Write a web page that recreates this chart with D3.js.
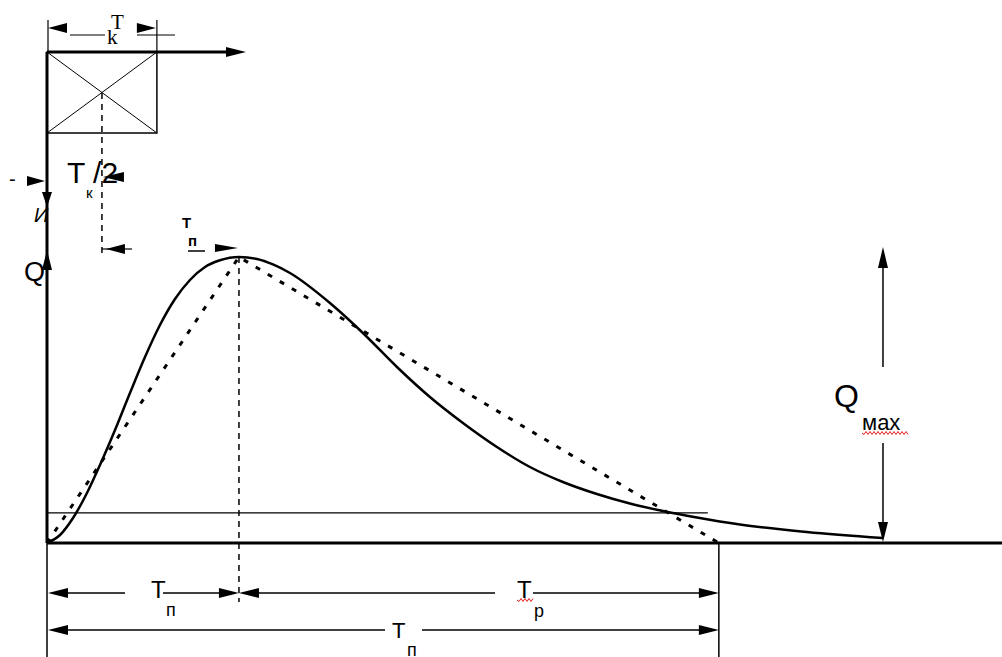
<!DOCTYPE html>
<html><head><meta charset="utf-8">
<script src="https://cdn.jsdelivr.net/npm/d3@7"></script>
<style>body{margin:0;background:#fff}svg{display:block}</style>
</head><body>
<script>
// ---- data ----
const hydroT = [0, 0.271, 0.542, 0.833, 1.104, 1.417, 1.729, 2.042, 2.354, 2.667, 2.979, 3.292, 3.604, 4.0, 4.375, 4.708, 5.063, 5.896, 6.583, 7.292, 7.979, 8.667, 9.375, 10.063, 10.75, 11.458, 12.146, 12.833, 13.542, 14.438, 15.833, 17.417];
const hydroQ = [0, 0.28, 0.874, 1.748, 2.727, 3.951, 5.245, 6.503, 7.622, 8.531, 9.196, 9.650, 9.885, 10.0, 9.93, 9.74, 9.441, 8.392, 7.343, 6.154, 5.105, 4.196, 3.357, 2.657, 2.133, 1.713, 1.381, 1.119, 0.892, 0.647, 0.385, 0.175];
const triT = [0, 4, 14];
const triQ = [0, 10, 0];
const baseFlowQ = [1.05];
const baseFlowEnd = [13.77];
const rainT = [0, 2.29];          // Tк
const rainI = [1];
const durations = [4, 10, 14];     // Tп, Tр, Tп(total)
const qmaxT = [17.42];

const W = 1002, H = 657;
const x = d3.scaleLinear().domain([0, 19.9]).range([47, 1002]);
const y = d3.scaleLinear().domain([0, 10]).range([543, 257]);
const yR = d3.scaleLinear().domain([0, 1]).range([52, 133]);

const svg = d3.select("body").append("svg").attr("width", W).attr("height", H);
const g = svg.append("g");
const SANS = "'Liberation Sans', Arial, sans-serif";
const SERIF = "'Liberation Serif', 'Times New Roman', serif";

function line(x1, y1, x2, y2, w = 1.5, dash = null) {
  const l = g.append("line").attr("x1", x1).attr("y1", y1).attr("x2", x2).attr("y2", y2)
    .attr("stroke", "#000").attr("stroke-width", w);
  if (dash) l.attr("stroke-dasharray", dash);
  return l;
}
function head(tx, ty, dir, len = 20, hw = 5) {
  let p;
  if (dir === "left") p = [[tx, ty], [tx + len, ty - hw], [tx + len, ty + hw]];
  if (dir === "right") p = [[tx, ty], [tx - len, ty - hw], [tx - len, ty + hw]];
  if (dir === "up") p = [[tx, ty], [tx - hw, ty + len], [tx + hw, ty + len]];
  if (dir === "down") p = [[tx, ty], [tx - hw, ty - len], [tx + hw, ty - len]];
  g.append("path").attr("d", "M" + p.map(d => d.join(",")).join("L") + "Z").attr("fill", "#000");
}
function text(t, tx, ty, size, font = SANS, extra = {}) {
  const el = g.append("text").attr("x", tx).attr("y", ty).attr("font-size", size)
    .attr("font-family", font).attr("fill", "#000").text(t);
  for (const k in extra) el.attr(k, extra[k]);
  return el;
}
function squiggle(x1, x2, yy) {
  let d = `M${x1},${yy}`;
  for (let xx = x1, i = 0; xx < x2; xx += 2, i++) d += `L${xx + 2},${yy + (i % 2 ? -1.5 : 1.5)}`;
  g.append("path").attr("d", d).attr("fill", "none").attr("stroke", "#e02020").attr("stroke-width", 1);
}

// ---- rainfall block (hyetograph) ----
const bx0 = x(rainT[0]), bx1 = x(rainT[1]), by0 = yR(0), by1 = yR(rainI[0]);
g.append("rect").attr("x", bx0).attr("y", by0).attr("width", bx1 - bx0).attr("height", by1 - by0)
  .attr("fill", "none").attr("stroke", "#000").attr("stroke-width", 1.5);
line(bx0, by0, bx1, by1, 1);
line(bx0, by1, bx1, by0, 1);
// top time axis
line(bx0, by0, 228, by0, 3);
head(246, by0, "right", 20, 5);
// Tk dimension
line(bx0 + 1, 20, bx0 + 1, by0, 1.2);
line(bx1, 20, bx1, by0, 1.2);
head(bx0 + 1, 28, "left", 19, 5);
head(bx1 - 1, 28, "right", 19, 5);
line(70, 35, 105, 35, 1.2);
line(137, 35, 175, 35, 1.2);
text("T", 111, 29, 21, SERIF);
text("k", 107, 44, 21, SERIF);
// Tk/2 dashed line
const bmid = x(rainT[1] / 2);
line(bmid, 93, bmid, 253, 1.5, "6,5");
text("T /2", 67, 183, 30);
text("к", 86, 198, 15);
head(bmid + 1, 177, "left", 21, 5);
head(bmid + 4, 249, "left", 19, 5);
line(bmid, 249, 132, 249, 1.2);

// ---- axes ----
line(x(0), by0, x(0), y(0), 3);
line(x(0), y(0), 1002, y(0), 3);
line(x(0), y(0), x(0), H, 1.5);
head(x(0), 207, "down", 15, 5);
head(x(0), 250, "up", 20, 5);
text("-", 9, 186, 20);
head(45, 181, "right", 18, 5);
text("И", 34, 222, 20, SANS, {"font-style": "italic"});
text("Q", 24, 281, 27);

// ---- base flow line ----
line(x(0), y(baseFlowQ[0]), x(baseFlowEnd[0]), y(baseFlowQ[0]), 1.3);

// ---- dashed triangle ----
const pts = triT.map((t, i) => [x(t), y(triQ[i])]);
g.append("path").attr("d", d3.line()(pts)).attr("fill", "none").attr("stroke", "#000")
  .attr("stroke-width", 3).attr("stroke-dasharray", "5,9");

// ---- hydrograph ----
const hpts = hydroT.map((t, i) => [x(t), y(hydroQ[i])]);
g.append("path").attr("d", d3.line().curve(d3.curveMonotoneX)(hpts))
  .attr("fill", "none").attr("stroke", "#000").attr("stroke-width", 2.5);

// ---- peak dashed vertical ----
const xp = x(durations[0]);
line(xp, y(10), xp, 602, 1.5, "6,5");
text("T", 182, 228, 15, SANS, {"font-weight": "bold"});
text("п", 188, 246, 15, SANS, {"font-weight": "bold"});
line(188, 251, 205, 251, 1.5);
head(xp - 1, 248, "right", 23, 4);

// ---- end vertical ----
const xe = x(durations[2]);
line(xe, y(0), xe, H, 1.5);

// ---- dimension line 1 ----
const d1 = 593;
head(x(0) + 1, d1, "left");
line(x(0) + 20, d1, 125, d1, 1.3);
text("T", 151, 598, 24);
text("п", 166, 616, 18);
line(163, d1, xp - 19, d1, 1.3);
head(xp, d1, "right");
head(xp, d1, "left");
line(xp + 19, d1, 495, d1, 1.3);
text("T", 517, 598, 24);
squiggle(517, 533, 600);
text("р", 534, 617, 18);
line(533, d1, xe - 19, d1, 1.3);
head(xe, d1, "right");

// ---- dimension line 2 ----
const d2 = 630;
head(x(0) + 1, d2, "left");
line(x(0) + 20, d2, 385, d2, 1.3);
text("T", 392, 638, 22);
text("п", 407, 656, 18);
line(422, d2, xe - 19, d2, 1.3);
head(xe, d2, "right");

// ---- Qmax arrow ----
const xq = x(qmaxT[0]);
head(xq, 247, "up", 21, 5);
line(xq, 265, xq, 367, 1.5);
text("Q", 834, 407, 32);
text("мах", 862, 430, 22);
squiggle(862, 908, 433);
line(xq, 443, xq, 525, 1.5);
head(xq, 542, "down", 20, 5);
</script>
</body></html>
